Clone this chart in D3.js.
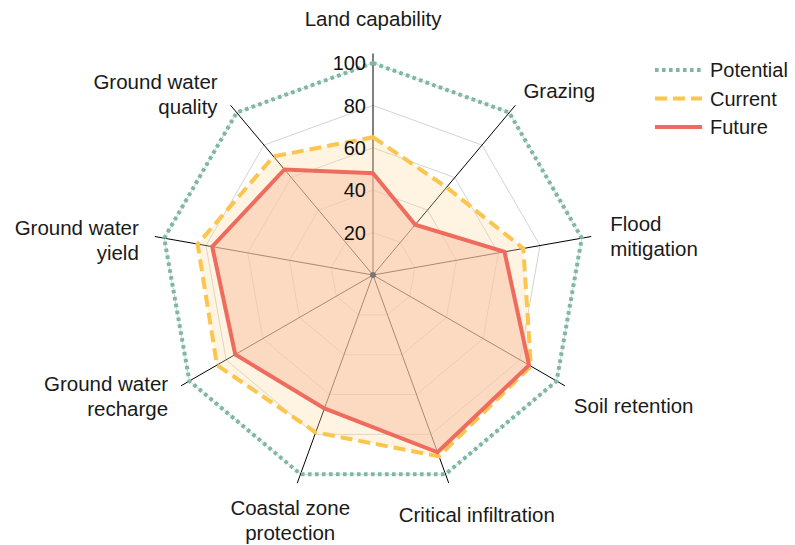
<!DOCTYPE html>
<html>
<head>
<meta charset="utf-8">
<script src="https://cdnjs.cloudflare.com/ajax/libs/d3/7.8.5/d3.min.js"></script>
<style>
  body { margin: 0; background: #fff; }
  svg { display: block; font-family: "Liberation Sans", Arial, sans-serif; }
</style>
</head>
<body>
<div id="viz"></div>
<script>
// axis names, clockwise from top
var axes = ["Land capability", "Grazing", "Flood mitigation", "Soil retention",
  "Critical infiltration", "Coastal zone protection", "Ground water recharge",
  "Ground water yield", "Ground water quality"];

var potential = [100, 100, 100, 100, 100, 100, 100, 100, 100];
var current = [65, 54, 72, 86, 91, 79, 85, 84, 73];
var future = [48, 31, 63, 85, 89, 67, 75, 77, 65];

var ticks = [20, 40, 60, 80, 100];
var seriesNames = ["Potential", "Current", "Future"];

var width = 795, height = 545;
var cx = 373, cy = 275;

var svg = d3.select("#viz").append("svg")
  .attr("width", width)
  .attr("height", height);

var r = d3.scaleLinear().domain([0, 100]).range([0, 212]);
var angle = d3.scaleLinear().domain([0, axes.length]).range([0, 2 * Math.PI]);

var g = svg.append("g").attr("transform", "translate(" + cx + "," + cy + ")");

function px(i, v) { return r(v) * Math.sin(angle(i)); }
function py(i, v) { return -r(v) * Math.cos(angle(i)); }

function ring(vals) {
  return vals.map(function (v, i) { return [px(i, v), py(i, v)]; });
}

var line = d3.line().curve(d3.curveLinearClosed);

// grid polygons
g.selectAll(".grid")
  .data(ticks)
  .enter()
  .append("path")
  .attr("d", function (t) { return line(ring(axes.map(function () { return t; }))); })
  .attr("fill", "none")
  .attr("stroke", "#d4d4d4")
  .attr("stroke-width", 1);

// spokes
g.selectAll(".spoke")
  .data(axes)
  .enter()
  .append("line")
  .attr("x1", 0).attr("y1", 0)
  .attr("x2", function (d, i) { return px(i, 104.5); })
  .attr("y2", function (d, i) { return py(i, 104.5); })
  .attr("stroke", "#000")
  .attr("stroke-width", 1);

// fills
g.append("path")
  .attr("d", line(ring(current)))
  .attr("fill", "#fdd99b")
  .attr("fill-opacity", 0.3);

g.append("path")
  .attr("d", line(ring(future)))
  .attr("fill", "#fac4a7")
  .attr("fill-opacity", 0.55);

g.append("circle")
  .attr("r", 3)
  .attr("fill", "#777");

// outlines
var styles = [
  { color: "#7db8a4", dash: "3.6,3.4" },
  { color: "#fbc54e", dash: "12,6" },
  { color: "#ee6b5d", dash: null }
];

[potential, current, future].forEach(function (vals, k) {
  g.append("path")
    .attr("d", line(ring(vals)))
    .attr("fill", "none")
    .attr("stroke", styles[k].color)
    .attr("stroke-width", 4)
    .attr("stroke-dasharray", styles[k].dash);
});

// tick labels along the top spoke
g.selectAll(".tick")
  .data(ticks)
  .enter()
  .append("text")
  .attr("x", -7)
  .attr("y", function (t) { return -r(t); })
  .attr("dy", "0.36em")
  .attr("text-anchor", "end")
  .attr("font-size", 20)
  .attr("fill", "#111")
  .text(function (t) { return t; });

// axis labels: offsets from spoke end, first baseline
var labelPos = [
  [0, -27, "middle", 1], [8, -7, "start", 1], [19, -6, "start", 2],
  [9, 27, "start", 1], [28, 39, "middle", 1], [-7, 32, "middle", 2],
  [-13, 5, "end", 2], [-16, -2, "end", 2], [-13, -16, "end", 2]
];

function splitLabel(name, n) {
  if (n === 1) return [name];
  var w = name.split(" ");
  var cut = name.indexOf("Ground") === 0 ? 2 : w.length - 1;
  return [w.slice(0, cut).join(" "), w.slice(cut).join(" ")];
}

axes.forEach(function (name, i) {
  var p = labelPos[i];
  var ex = px(i, 104.5), ey = py(i, 104.5);
  var t = g.append("text")
    .attr("text-anchor", p[2])
    .attr("font-size", 20.5)
    .attr("fill", "#1a1a1a");
  splitLabel(name, p[3]).forEach(function (s, j) {
    t.append("tspan")
      .attr("x", ex + p[0])
      .attr("y", ey + p[1] + j * 25)
      .text(s);
  });
});

// legend
var legend = svg.append("g").attr("transform", "translate(655,70)");
seriesNames.forEach(function (name, k) {
  var row = legend.append("g").attr("transform", "translate(0," + (k * 28.5) + ")");
  row.append("line")
    .attr("x1", 0).attr("x2", 47)
    .attr("stroke", styles[k].color)
    .attr("stroke-width", 4)
    .attr("stroke-dasharray", styles[k].dash);
  row.append("text")
    .attr("x", 55)
    .attr("dy", "0.36em")
    .attr("font-size", 20)
    .attr("fill", "#1a1a1a")
    .text(name);
});
</script>
</body>
</html>
